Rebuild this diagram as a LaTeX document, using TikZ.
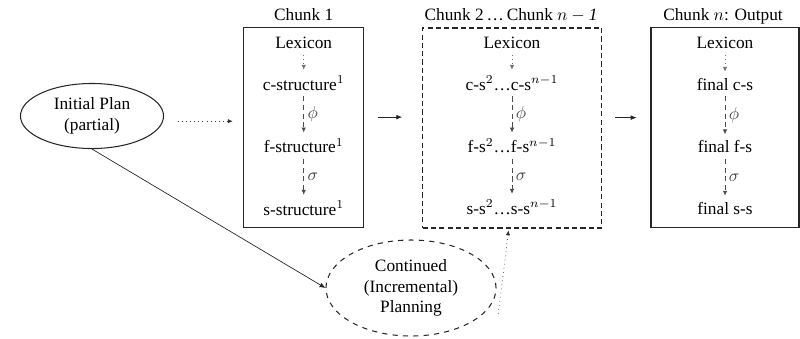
\documentclass[tikz,border=0pt]{standalone}
\usepackage{amsmath}
\usepackage{fontspec}
\setmainfont{LiberationSerif}[Extension=.ttf, UprightFont=*-Regular, ItalicFont=*-Italic, BoldFont=*-Bold, BoldItalicFont=*-BoldItalic]
\usetikzlibrary{arrows.meta,positioning,shapes.geometric}

\begin{document}
\begin{tikzpicture}[
  x=0.578pt, y=-0.578pt,
  chunk/.style={rectangle, draw=black!85, line width=0.7pt, minimum height=115.6pt},
  ttl/.style={anchor=base, inner sep=0pt},
  lvl/.style={anchor=base},
  plan/.style={ellipse, draw=black!85, line width=0.6pt, align=center, inner sep=0pt},
  lex/.style={-{Latex[length=1mm,width=0.9mm]}, draw=black!55, dotted},
  map/.style={-{Latex[length=1mm,width=0.9mm]}, draw=black!70, dash pattern=on 3pt off 2pt},
  lbl/.style={right, text=black!75, inner sep=2pt},
  arr/.style={-{Latex[length=1.2mm,width=1mm]}, draw=black!85, line width=0.5pt},
  dots/.style={-{Latex[length=1mm,width=0.9mm]}, draw=black!80, dotted}
]
\useasboundingbox (0,0) rectangle (800,338);

% chunk boxes
\node[chunk, minimum width=69.4pt] (c1) at (303.7,127.5) {};
\node[chunk, minimum width=103.5pt, dash pattern=on 3pt off 1.8pt] (c2) at (512.2,128) {};
\node[chunk, minimum width=85.5pt] (c3) at (725,127.7) {};
\node[ttl] (t1) at (303.7,20.7) {Chunk 1};
\node[ttl] (t2) at (511,20.7) {Chunk 2\,\ldots\,Chunk $n-{}$\textit{1}};
\node[ttl] (t3) at (723,20.7) {Chunk $n$: Output};

% chunk 1
\node[lvl] (lx1) at (303.7,48.3) {Lexicon};
\node[lvl] (cs1) at (303.7,90) {c-structure$^1$};
\node[lvl] (fs1) at (303.7,152.7) {f-structure$^1$};
\node[lvl] (ss1) at (303.7,215) {s-structure$^1$};
\draw[lex] (lx1) -- (cs1);
\draw[map] (cs1) -- node[lbl] {$\phi$} (fs1);
\draw[map] (fs1) -- node[lbl] {$\sigma$} (ss1);

% chunk 2 ... n-1
\node[lvl] (lx2) at (512,48.3) {Lexicon};
\node[lvl] (cs2) at (512,90) {c-s$^2$\ldots c-s$^{n-1}$};
\node[lvl] (fs2) at (512,152.7) {f-s$^2$\ldots f-s$^{n-1}$};
\node[lvl] (ss2) at (512,214) {s-s$^2$\ldots s-s$^{n-1}$};
\draw[lex] (lx2) -- (cs2);
\draw[map] (cs2) -- node[lbl] {$\phi$} (fs2);
\draw[map] (fs2) -- node[lbl] {$\sigma$} (ss2);

% chunk n
\node[lvl] (lx3) at (725,48.3) {Lexicon};
\node[lvl] (cs3) at (725,90) {final c-s};
\node[lvl] (fs3) at (725,152.7) {final f-s};
\node[lvl] (ss3) at (725,214) {final s-s};
\draw[lex] (lx3) -- (cs3);
\draw[map] (cs3) -- node[lbl] {$\phi$} (fs3);
\draw[map] (fs3) -- node[lbl] {$\sigma$} (ss3);

% planning
\node[plan, minimum width=82.7pt, minimum height=37.6pt] (init) at (92,116) {Initial Plan\\(partial)};
\node[plan, dashed, minimum width=98.3pt, minimum height=55.5pt] (cont) at (411,288) {Continued\\(Incremental)\\Planning};

\draw[dots, shorten <=7.8pt, shorten >=6pt] ([yshift=-3pt]init.east) -- ([yshift=-3pt]init.east -| c1.west);
\draw[arr, shorten <=8pt, shorten >=11.5pt] ([yshift=6pt]c1.east) -- ([yshift=6pt]c1.east -| c2.west);
\draw[arr, shorten <=7.5pt, shorten >=8pt] ([yshift=6pt]c2.east) -- ([yshift=6pt]c2.east -| c3.west);
\draw[arr, line width=0.4pt] (init.south) -- (cont.west);
\draw[dots, shorten >=1pt] ([shift={(1pt,-15pt)}]cont.east) -- ([xshift=-2pt]c2.south);
\end{tikzpicture}
\end{document}
